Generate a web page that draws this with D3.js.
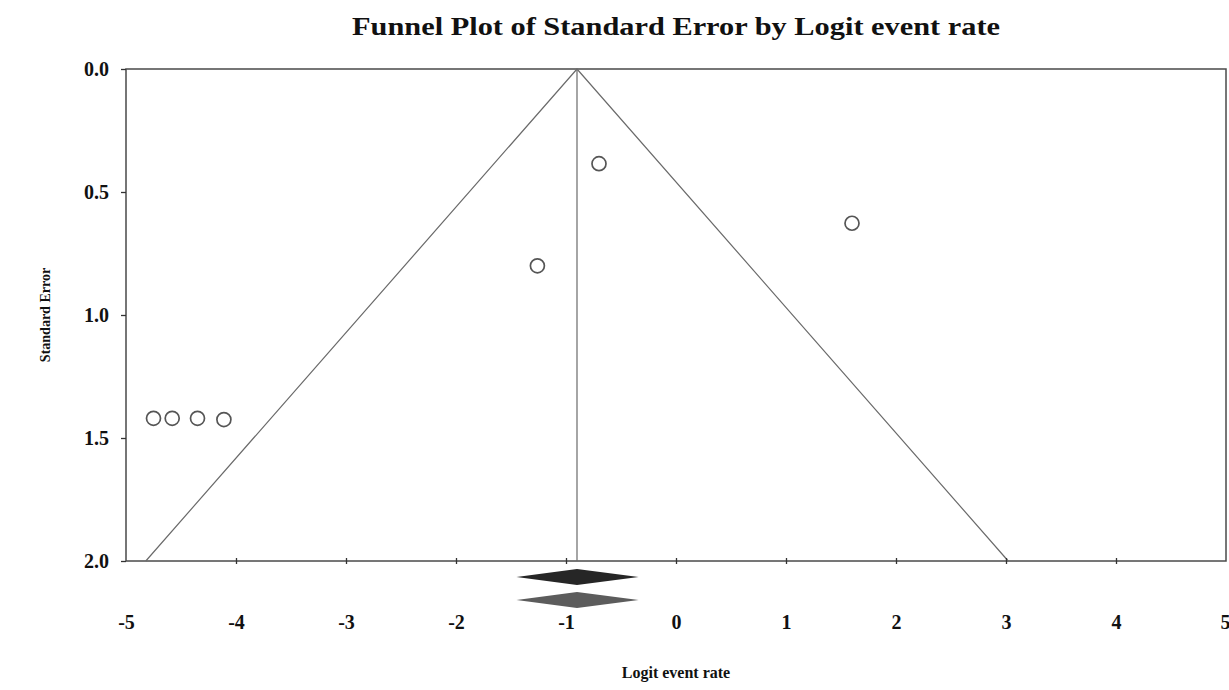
<!DOCTYPE html>
<html>
<head>
<meta charset="utf-8">
<script src="https://cdn.jsdelivr.net/npm/d3@7"></script>
<style>
  body { margin: 0; background: #fff; }
  text { font-family: "Liberation Serif", "Times New Roman", serif; font-weight: bold; fill: #111; }
</style>
</head>
<body>
<div id="chart"></div>
<script>
// study points: logit event rate vs standard error
const studyLogit = [-4.75, -4.58, -4.35, -4.11, -1.26, -0.70, 1.60];
const studySE = [1.42, 1.42, 1.42, 1.425, 0.80, 0.385, 0.627];

// pooled estimates (observed and imputed) shown as diamonds under the axis
const pooledEst = [-0.9, -0.9];
const pooledLow = [-1.45, -1.45];
const pooledHigh = [-0.34, -0.34];
const pooledFill = ['#262626', '#5c5c5c'];

const xTicks = [-5, -4, -3, -2, -1, 0, 1, 2, 3, 4, 5];
const yTicks = [0.0, 0.5, 1.0, 1.5, 2.0];
const seMax = 2.0;

const W = 1229, H = 690;
const margin = { top: 69, right: 3, bottom: 129, left: 126 };

const svg = d3.select('#chart').append('svg')
  .attr('width', W)
  .attr('height', H);

const x = d3.scaleLinear().domain([-5, 5]).range([margin.left, W - margin.right]);
const y = d3.scaleLinear().domain([0, seMax]).range([margin.top, H - margin.bottom]);

// frame
svg.append('rect')
  .attr('x', x(-5))
  .attr('y', y(0))
  .attr('width', x(5) - x(-5))
  .attr('height', y(seMax) - y(0))
  .attr('fill', 'none')
  .attr('stroke', '#4a4a4a')
  .attr('stroke-width', 1.5);

// funnel
const center = pooledEst[0];
svg.append('path')
  .attr('d', d3.line()([
    [x(center - 1.96 * seMax), y(seMax)],
    [x(center), y(0)],
    [x(center + 1.96 * seMax), y(seMax)]
  ]))
  .attr('fill', 'none')
  .attr('stroke', '#6a6a6a')
  .attr('stroke-width', 1.2);

svg.append('line')
  .attr('x1', x(center)).attr('x2', x(center))
  .attr('y1', y(0)).attr('y2', y(seMax))
  .attr('stroke', '#6a6a6a')
  .attr('stroke-width', 1.2);

// y axis
const yAxis = svg.append('g')
  .attr('transform', `translate(${x(-5)},0)`)
  .call(d3.axisLeft(y).tickValues(yTicks).tickFormat(d3.format('.1f')).tickSize(5).tickPadding(12));
yAxis.select('.domain').remove();
yAxis.selectAll('line').attr('stroke', '#333').attr('stroke-width', 1.3);
yAxis.selectAll('text').attr('font-size', 20).attr('font-family', null).attr('fill', null)
  .attr('dy', '0.34em');

// x axis: ticks cross the bottom line
const xAxis = svg.append('g')
  .attr('transform', `translate(0,${y(seMax)})`)
  .call(d3.axisBottom(x).tickValues(xTicks).tickSize(0).tickPadding(0).tickFormat(d => String(d)));
xAxis.select('.domain').remove();
xAxis.selectAll('.tick line')
  .attr('y1', -3).attr('y2', 3)
  .attr('stroke', '#333').attr('stroke-width', 1.3);
xAxis.selectAll('.tick').filter(d => d === -5 || d === 5).select('line').remove();
xAxis.selectAll('text')
  .attr('font-size', 20).attr('font-family', null).attr('fill', null)
  .attr('y', 61).attr('dy', '0.34em');
xAxis.selectAll('.tick').filter(d => d === 5).select('text')
  .attr('text-anchor', 'end').attr('x', 4);

// diamonds
svg.selectAll('.diamond')
  .data(pooledEst)
  .enter()
  .append('path')
  .attr('class', 'diamond')
  .attr('d', (d, i) => {
    const cy = y(seMax) + 16 + i * 23;
    return d3.line()([
      [x(pooledLow[i]), cy],
      [x(d), cy - 8],
      [x(pooledHigh[i]), cy],
      [x(d), cy + 8]
    ]) + 'Z';
  })
  .attr('fill', (d, i) => pooledFill[i]);

// study points
svg.selectAll('.study')
  .data(studyLogit)
  .enter()
  .append('circle')
  .attr('class', 'study')
  .attr('cx', d => x(d))
  .attr('cy', (d, i) => y(studySE[i]))
  .attr('r', 7)
  .attr('fill', '#fff')
  .attr('stroke', '#555')
  .attr('stroke-width', 1.7);

// titles
svg.append('text')
  .attr('x', 676)
  .attr('y', 35)
  .attr('text-anchor', 'middle')
  .attr('font-size', 26)
  .attr('textLength', 648)
  .attr('lengthAdjust', 'spacingAndGlyphs')
  .text('Funnel Plot of Standard Error by Logit event rate');

svg.append('text')
  .attr('x', 676)
  .attr('y', 678)
  .attr('text-anchor', 'middle')
  .attr('font-size', 16)
  .text('Logit event rate');

svg.append('text')
  .attr('transform', 'translate(50,315) rotate(-90)')
  .attr('text-anchor', 'middle')
  .attr('font-size', 14)
  .text('Standard Error');
</script>
</body>
</html>
